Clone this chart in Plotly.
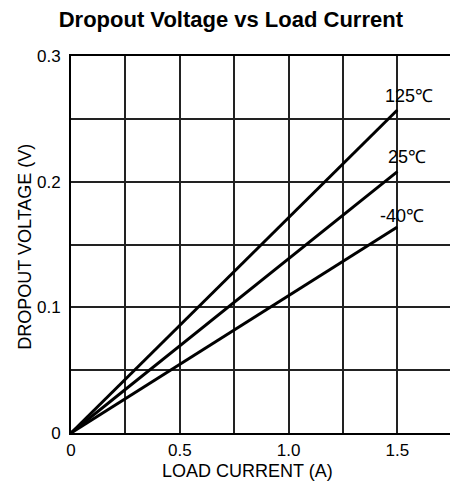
import plotly.graph_objects as go

# Data
load_current = [0.0, 1.5]
v_125 = [0.0, 0.257]
v_25 = [0.0, 0.208]
v_m40 = [0.0, 0.164]
series_names = ["125℃", "25℃", "-40℃"]
x_tickvals = [0, 0.25, 0.5, 0.75, 1.0, 1.25, 1.5]
x_ticktext = ["0", "", "0.5", "", "1.0", "", "1.5"]
y_tickvals = [0, 0.05, 0.1, 0.15, 0.2, 0.25, 0.3]
y_ticktext = ["0", "", "0.1", "", "0.2", "", "0.3"]

FONT = "Liberation Sans, Arial, sans-serif"

fig = go.Figure()
for name, ys in zip(series_names, [v_125, v_25, v_m40]):
    fig.add_trace(go.Scatter(x=load_current, y=ys, mode="lines", name=name,
                             line=dict(color="black", width=3)))

label_pos = [(1.553, 0.268), (1.544, 0.2196), (1.521, 0.1727)]
for name, (lx, ly) in zip(series_names, label_pos):
    fig.add_annotation(x=lx, y=ly, text=name, showarrow=False,
                       font=dict(family=FONT, size=18, color="black"),
                       xanchor="center", yanchor="middle")

# axis titles
fig.add_annotation(xref="paper", yref="paper", x=0.467, y=-0.1,
                   text="LOAD CURRENT (A)", showarrow=False,
                   font=dict(family=FONT, size=18, color="black"),
                   xanchor="center", yanchor="middle")
fig.add_annotation(xref="paper", yref="paper", x=-0.12, y=0.493,
                   text="DROPOUT VOLTAGE (V)", showarrow=False, textangle=-90,
                   font=dict(family=FONT, size=18, color="black"),
                   xanchor="center", yanchor="middle")

fig.update_layout(
    width=450, height=483,
    margin=dict(l=71, r=0, t=56, b=50),
    paper_bgcolor="white", plot_bgcolor="white",
    showlegend=False,
    font=dict(family=FONT, size=17, color="black"),
    title=dict(text="<b>Dropout Voltage vs Load Current</b>", x=0.513, xanchor="center",
               y=1 - 19 / 483, yanchor="middle",
               font=dict(family=FONT, size=22, color="black")),
)
fig.update_xaxes(range=[0, 1.742], tickvals=x_tickvals, ticktext=x_ticktext,
                 showgrid=True, gridcolor="#222", gridwidth=1.5,
                 showline=True, linecolor="black", linewidth=2, mirror=True,
                 ticks="", zeroline=False, tickfont=dict(size=17),
                 ticklabelstandoff=1, automargin=False)
fig.update_yaxes(range=[0, 0.3], tickvals=y_tickvals, ticktext=y_ticktext,
                 showgrid=True, gridcolor="#222", gridwidth=1.5,
                 showline=True, linecolor="black", linewidth=2,
                 ticks="", zeroline=False, tickfont=dict(size=17),
                 ticklabelstandoff=5, automargin=False)

fig.write_html("out.html", config={"displayModeBar": False},
               post_script="document.body.style.margin='0px';document.body.style.overflow='hidden';")
